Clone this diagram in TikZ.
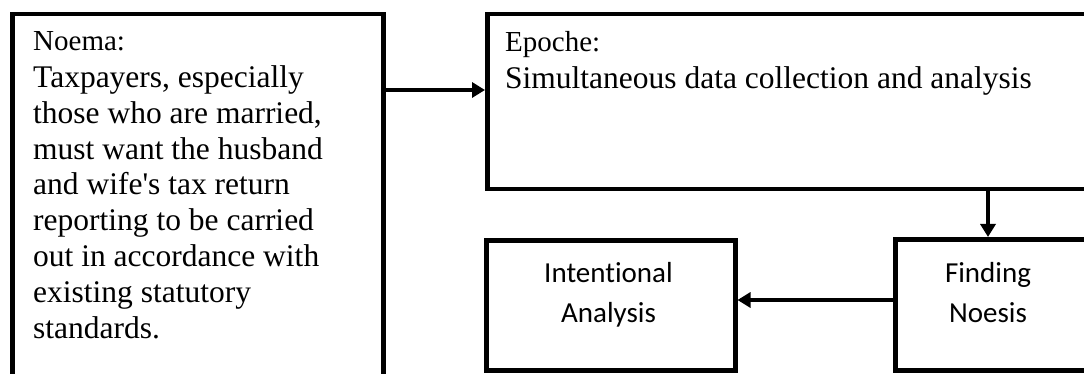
\documentclass[tikz,border=0pt]{standalone}
\usepackage{fontspec}
\setmainfont{Liberation Serif}
\newfontfamily\calibrifont[Ligatures=NoCommon]{Carlito}
\usetikzlibrary{arrows.meta}
\begin{document}
\begin{tikzpicture}[x=1pt,y=-1pt,
  box/.style={draw, line width=4.5pt, rectangle, inner sep=0pt, anchor=north west},
  conn/.style={line width=4.2pt, -{Triangle[length=13pt,width=15pt]}},
  lbl/.style={font=\fontsize{29}{36}\selectfont, inner sep=0pt, anchor=base west},
  body/.style={font=\fontsize{31.5}{35.9}\selectfont, inner sep=0pt, anchor=north west, align=left},
  cal/.style={font=\calibrifont\fontsize{29}{40.5}\selectfont, inner sep=0pt, anchor=north, align=center}]
\useasboundingbox (0,0) rectangle (1084,374);
% boxes
\node[box, minimum width=371pt, minimum height=375pt] (noema) at (10,12) {};
\node[box, minimum width=605pt, minimum height=175pt] (epoche) at (485,12) {};
\node[box, minimum width=249pt, minimum height=130pt] (intent) at (484,238) {};
\node[box, minimum width=197pt, minimum height=131pt] (finding) at (893,237) {};
% texts
\node[lbl] (noemalbl) at (33,51) {Noema:};
\node[body] (noematxt) at (33,62) {\rule{0pt}{25pt}Taxpayers, especially\\those who are married,\\must want the husband\\and wife\textquotesingle s tax return\\reporting to be carried\\out in accordance with\\existing statutory\\standards.};
\node[lbl] (epochelbl) at (505,52) {Epoche:};
\node[body] (epochetxt) at (505,63) {\rule{0pt}{25pt}Simultaneous data collection and analysis};
\node[cal] (intenttxt) at (608.5,257) {\rule{0pt}{25pt}Intentional\\Analysis};
\node[cal] (findingtxt) at (988,257) {\rule{0pt}{25pt}Finding\\Noesis};
% connectors
\draw[conn] (noema.east |- 0,90) -- (epoche.west |- 0,90);
\draw[conn] (epoche.south -| 988,0) -- (finding.north -| 988,0);
\draw[conn] (finding.west |- 0,300) -- (intent.east |- 0,300);
\end{tikzpicture}
\end{document}
